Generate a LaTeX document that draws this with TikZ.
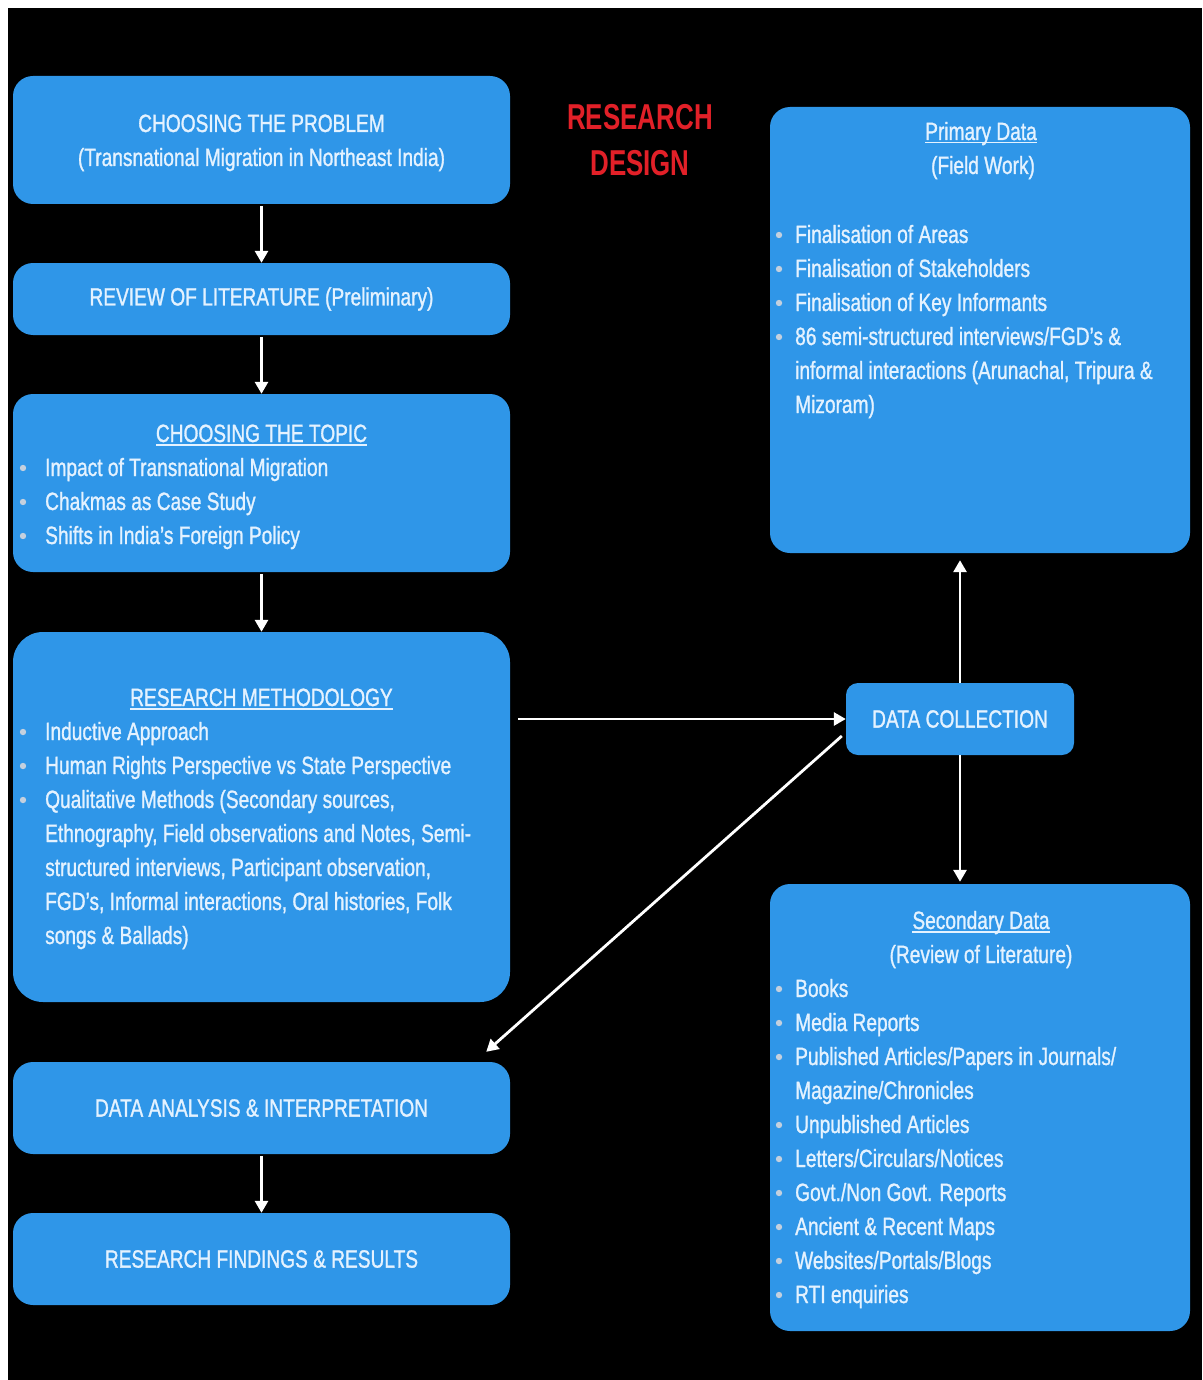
\documentclass[tikz,border=0pt]{standalone}
\usepackage{fontspec}
\setmainfont[FakeStretch=0.765,FakeBold=1.1]{Liberation Sans}
\newfontfamily\headfont[FakeStretch=0.72]{Liberation Sans}
\usetikzlibrary{arrows.meta,calc}

\definecolor{boxblue}{RGB}{47,150,232}
\definecolor{txtcol}{RGB}{228,242,255}
\definecolor{bulcol}{RGB}{196,208,222}
\definecolor{headred}{RGB}{226,32,40}

% underline drawn at a fixed depth below the baseline
\newcommand\undl[1]{\setbox0=\hbox{#1}\rlap{\rule[-3.5pt]{\wd0}{1.3pt}}\box0}

\tikzset{
  box/.style={fill=boxblue, draw=none, rounded corners=20pt, inner sep=0pt},
  txt/.style={text=txtcol, inner sep=0pt, font=\fontsize{25}{30}\selectfont},
  ltxt/.style={txt, anchor=base west},
  ctxt/.style={txt, anchor=base},
  arr/.style={draw=white, line width=2.8pt, -{Triangle[length=12pt,width=13pt]}},
}

\begin{document}
\begin{tikzpicture}[x=1pt,y=-1pt]
\useasboundingbox (0,0) rectangle (1202,1380);
\fill[white] (0,0) rectangle (1202,1380);
\fill[black] (8,8) rectangle (1202,1380);

% ---------- left column ----------
\node[box, minimum width=497pt, minimum height=128pt] (prob) at (261.5,140) {};
\node[ctxt] (probA) at (261.5,132) {CHOOSING THE PROBLEM};
\node[ctxt] (probB) at (261.5,166) {(Transnational Migration in Northeast India)};

\node[box, minimum width=497pt, minimum height=72pt] (rev) at (261.5,299)
  {\fontsize{25}{30}\selectfont\color{txtcol}REVIEW OF LITERATURE (Preliminary)};

\node[box, minimum width=497pt, minimum height=178pt] (topic) at (261.5,483) {};
\node[ctxt] (topicT) at (261.5,442) {\undl{CHOOSING THE TOPIC}};
\node[ltxt] (topic1) at (45,476) {Impact of Transnational Migration};
\node[ltxt] (topic2) at (45,510) {Chakmas as Case Study};
\node[ltxt] (topic3) at (45,544) {Shifts in India’s Foreign Policy};
\foreach \yy in {476,510,544} \fill[bulcol] (23,\yy-8) circle (3.2pt);

\node[box, rounded corners=30pt, minimum width=497pt, minimum height=370pt] (meth) at (261.5,817) {};
\node[ctxt] (methT) at (261.5,706) {\undl{RESEARCH METHODOLOGY}};
\node[ltxt] (meth1) at (45,740) {Inductive Approach};
\node[ltxt] (meth2) at (45,774) {Human Rights Perspective vs State Perspective};
\node[ltxt] (meth3) at (45,808) {Qualitative Methods (Secondary sources,};
\node[ltxt] (meth4) at (45,842) {Ethnography, Field observations and Notes, Semi-};
\node[ltxt] (meth5) at (45,876) {structured interviews, Participant observation,};
\node[ltxt] (meth6) at (45,910) {FGD’s, Informal interactions, Oral histories, Folk};
\node[ltxt] (meth7) at (45,944) {songs \& Ballads)};
\foreach \yy in {740,774,808} \fill[bulcol] (23,\yy-8) circle (3.2pt);

\node[box, minimum width=497pt, minimum height=92pt] (anal) at (261.5,1108)
  {\fontsize{25}{30}\selectfont\color{txtcol}DATA ANALYSIS \& INTERPRETATION};

\node[box, minimum width=497pt, minimum height=92pt] (find) at (261.5,1259)
  {\fontsize{25}{30}\selectfont\color{txtcol}RESEARCH FINDINGS \& RESULTS};

% ---------- heading ----------
\node[anchor=base, inner sep=0pt, text=headred, font=\headfont\bfseries\fontsize{36}{40}\selectfont]
  (head1) at (640,130) {RESEARCH};
\node[anchor=base, inner sep=0pt, text=headred, font=\headfont\bfseries\fontsize{36}{40}\selectfont]
  (head2) at (640,176) {DESIGN};

% ---------- right column ----------
\node[box, minimum width=420pt, minimum height=446pt] (prim) at (980,330) {};
\node[ctxt] (primT) at (981,140) {\undl{Primary Data}};
\node[ctxt] (primS) at (983,174) {(Field Work)};
\node[ltxt] (prim1) at (795,243) {Finalisation of Areas};
\node[ltxt] (prim2) at (795,277) {Finalisation of Stakeholders};
\node[ltxt] (prim3) at (795,311) {Finalisation of Key Informants};
\node[ltxt] (prim4) at (795,345) {86 semi-structured interviews/FGD’s \&};
\node[ltxt] (prim5) at (795,379) {informal interactions (Arunachal, Tripura \&};
\node[ltxt] (prim6) at (795,413) {Mizoram)};
\foreach \yy in {243,277,311,345} \fill[bulcol] (779,\yy-8) circle (3.2pt);

\node[box, rounded corners=12pt, minimum width=228pt, minimum height=72pt] (dc) at (960,719)
  {\fontsize{25}{30}\selectfont\color{txtcol}DATA COLLECTION};

\node[box, minimum width=420pt, minimum height=447pt] (sec) at (980,1107.5) {};
\node[ctxt] (secT) at (981,929) {\undl{Secondary Data}};
\node[ctxt] (secS) at (981,963) {(Review of Literature)};
\node[ltxt] (sec1) at (795,997) {Books};
\node[ltxt] (sec2) at (795,1031) {Media Reports};
\node[ltxt] (sec3) at (795,1065) {Published Articles/Papers in Journals/};
\node[ltxt] (sec4) at (795,1099) {Magazine/Chronicles};
\node[ltxt] (sec5) at (795,1133) {Unpublished Articles};
\node[ltxt] (sec6) at (795,1167) {Letters/Circulars/Notices};
\node[ltxt] (sec7) at (795,1201) {Govt./Non Govt. Reports};
\node[ltxt] (sec8) at (795,1235) {Ancient \& Recent Maps};
\node[ltxt] (sec9) at (795,1269) {Websites/Portals/Blogs};
\node[ltxt] (sec10) at (795,1303) {RTI enquiries};
\foreach \yy in {997,1031,1065,1133,1167,1201,1235,1269,1303} \fill[bulcol] (779,\yy-8) circle (3.2pt);

% ---------- connectors ----------
\draw[arr, shorten <=2pt] (prob.south) -- (rev.north);
\draw[arr, shorten <=2pt] (rev.south) -- (topic.north);
\draw[arr, shorten <=2pt] (topic.south) -- (meth.north);
\draw[arr, shorten <=2pt] (anal.south) -- (find.north);
\draw[arr, shorten <=8pt] (meth.east |- dc.west) -- (dc.west);
\draw[arr, shorten >=7pt] (dc.north) -- (dc.north |- prim.south);
\draw[arr, shorten >=2pt] (dc.south) -- (dc.south |- sec.north);
\draw[arr] ($(dc.west)+(-4,17)$) -- ($(anal.north east)+(-24,-10)$);
\end{tikzpicture}
\end{document}
